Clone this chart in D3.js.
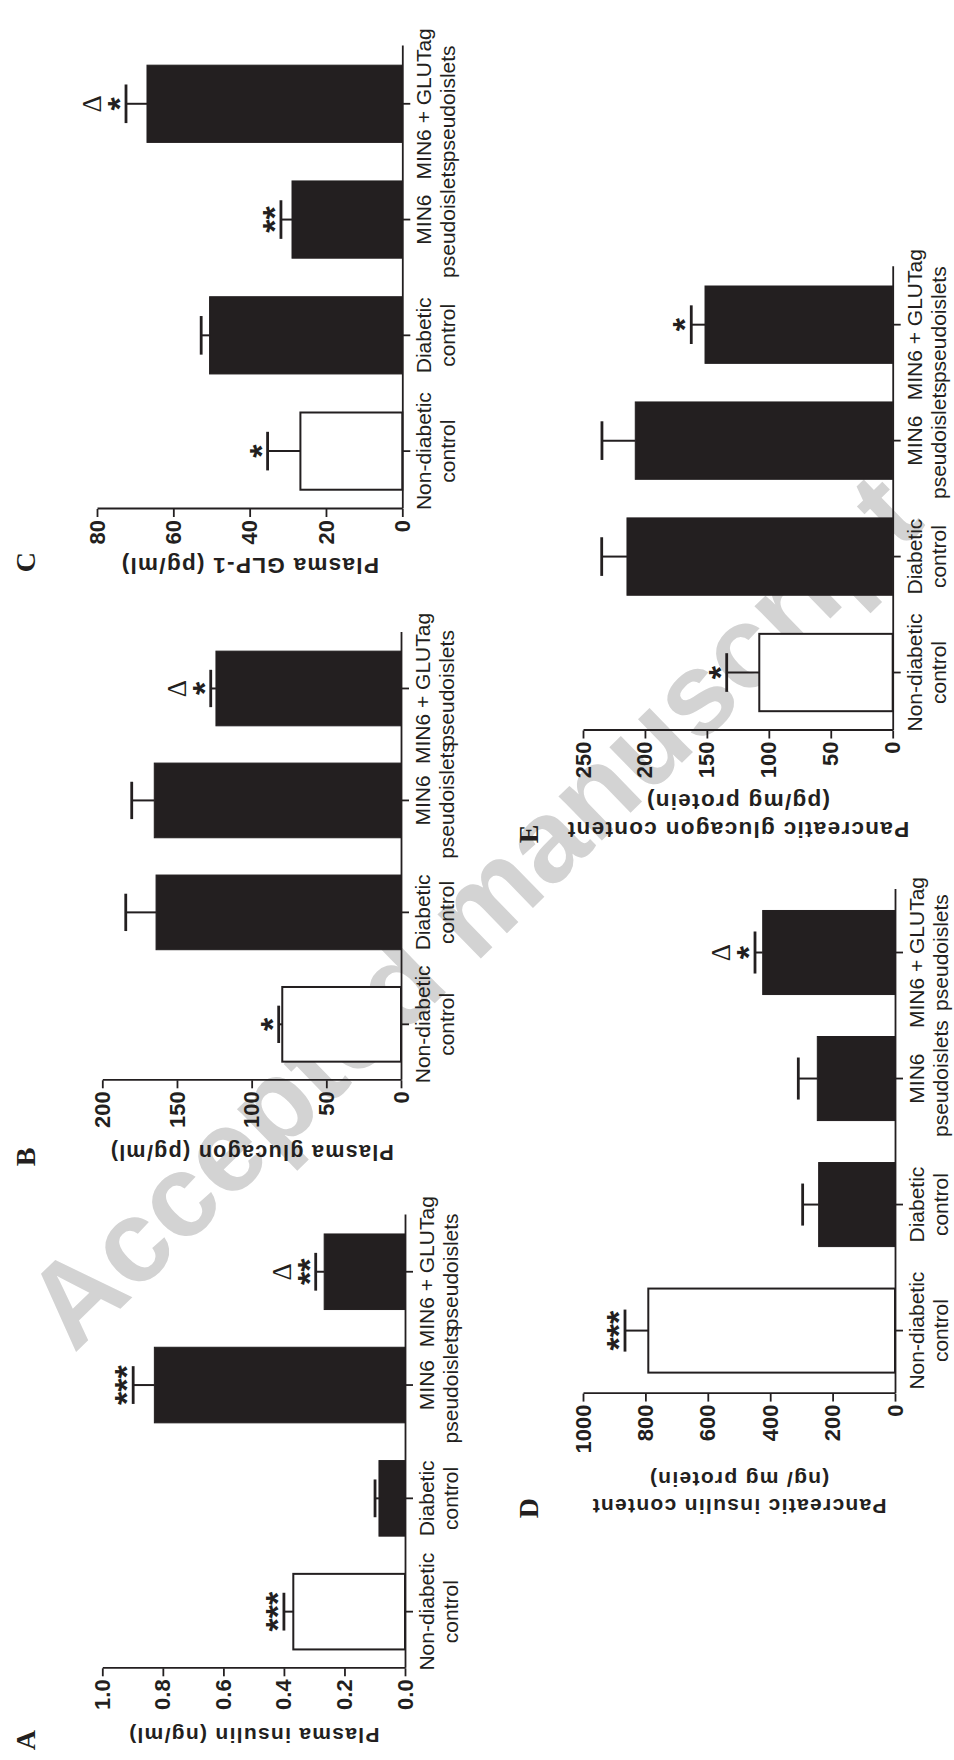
<!DOCTYPE html>
<html><head><meta charset="utf-8">
<script src="https://cdn.jsdelivr.net/npm/d3@7"></script>
<style>body{margin:0;background:#fff} svg{display:block}</style>
</head><body>
<svg id="fig" width="954" height="1760"></svg>
<script>
// ---------- data ----------
const groupLine1 = ["Non-diabetic", "Diabetic", "MIN6", "MIN6 + GLUTag"];
const groupLine2 = ["control", "control", "pseudoislets", "pseudoislets"];
const barColors = ["#ffffff", "#231f20", "#231f20", "#231f20"];

const plasmaInsulin      = [0.369, 0.086, 0.828, 0.267];
const plasmaInsulinSem   = [0.031, 0.013, 0.070, 0.028];
const plasmaInsulinStars = ["***", "", "***", "**"];
const plasmaInsulinDelta = [false, false, false, true];
const plasmaInsulinTicks = [0, 0.2, 0.4, 0.6, 0.8, 1.0];

const plasmaGlucagon      = [79.5, 164.0, 165.2, 123.9];
const plasmaGlucagonSem   = [2.4, 20.3, 15.1, 3.5];
const plasmaGlucagonStars = ["*", "", "", "*"];
const plasmaGlucagonDelta = [false, false, false, true];
const plasmaGlucagonTicks = [0, 50, 100, 150, 200];

const plasmaGlp1      = [26.7, 50.5, 28.9, 66.9];
const plasmaGlp1Sem   = [8.6, 2.2, 2.9, 5.5];
const plasmaGlp1Stars = ["*", "", "**", "*"];
const plasmaGlp1Delta = [false, false, false, true];
const plasmaGlp1Ticks = [0, 20, 40, 60, 80];

const insulinContent      = [790.7, 244.7, 249.0, 424.0];
const insulinContentSem   = [74.7, 51.3, 60.9, 24.7];
const insulinContentStars = ["***", "", "", "*"];
const insulinContentDelta = [false, false, false, true];
const insulinContentTicks = [0, 200, 400, 600, 800, 1000];

const glucagonContent      = [107.7, 214.5, 207.8, 151.5];
const glucagonContentSem   = [26.3, 20.4, 26.9, 11.1];
const glucagonContentStars = ["*", "", "", "*"];
const glucagonContentDelta = [false, false, false, false];
const glucagonContentTicks = [0, 50, 100, 150, 200, 250];

const watermarkText = "Accepted manuscript";

// ---------- layout (unrotated page coordinates; page is turned 90° CCW) ----------
const panels = [
  {letter:"A", values:plasmaInsulin, sem:plasmaInsulinSem, stars:plasmaInsulinStars, delta:plasmaInsulinDelta,
   ticks:plasmaInsulinTicks, fmt:d3.format(".1f"), title:["Plasma insulin (ng/ml)"], titleSize:21,
   x0:91.7, x1:544.9, y0:405, yTop:102.3, titleBase:[32], letterPos:[20, 35]},
  {letter:"B", values:plasmaGlucagon, sem:plasmaGlucagonSem, stars:plasmaGlucagonStars, delta:plasmaGlucagonDelta,
   ticks:plasmaGlucagonTicks, fmt:d3.format("d"), title:["Plasma glucagon (pg/ml)"], titleSize:21.5,
   x0:679.7, x1:1127.5, y0:401, yTop:102.3, titleBase:[615.5], letterPos:[603, 35]},
  {letter:"C", values:plasmaGlp1, sem:plasmaGlp1Sem, stars:plasmaGlp1Stars, delta:plasmaGlp1Delta,
   ticks:plasmaGlp1Ticks, fmt:d3.format("d"), title:["Plasma GLP-1 (pg/ml)"], titleSize:22.5,
   x0:1251, x1:1714.1, y0:402.3, yTop:97, titleBase:[1202], letterPos:[1198, 35]},
  {letter:"D", values:insulinContent, sem:insulinContentSem, stars:insulinContentStars, delta:insulinContentDelta,
   ticks:insulinContentTicks, fmt:d3.format("d"), title:["Pancreatic insulin content", "(ng/ mg protein)"], titleSize:21,
   x0:366.4, x1:870.5, y0:895, yTop:583, titleBase:[260.7, 288], letterPos:[252, 538]},
  {letter:"E", values:glucagonContent, sem:glucagonContentSem, stars:glucagonContentStars, delta:glucagonContentDelta,
   ticks:glucagonContentTicks, fmt:d3.format("d"), title:["Pancreatic glucagon content", "(pg/mg protein)"], titleSize:22.5,
   x0:1029.5, x1:1493.3, y0:892.7, yTop:583, titleBase:[938, 966], letterPos:[926, 538]}
];

const ink = "#231f20";
const sans = "'Liberation Sans', Arial, Helvetica, sans-serif";
const serif = "'Liberation Serif', 'Times New Roman', serif";

const svg = d3.select("#fig");
svg.append("rect").attr("width", 954).attr("height", 1760).attr("fill", "#fff");

// watermark (behind the figure)
svg.append("text")
  .attr("transform", "translate(74,1354) rotate(-44.2)")
  .attr("font-family", sans).attr("font-weight", "bold").attr("font-size", 117)
  .attr("fill", "#d3d3d3")
  .text(watermarkText);

const page = svg.append("g").attr("transform", "translate(0,1760) rotate(-90)");

panels.forEach(p => {
  const g = page.append("g");
  const idx = d3.range(p.values.length);
  const x = d3.scaleBand().domain(idx).range([p.x0, p.x1]).paddingInner(0.333).paddingOuter(0.1665);
  const y = d3.scaleLinear().domain([0, p.ticks[p.ticks.length - 1]]).range([p.y0, p.yTop]);
  const bw = x.bandwidth();
  const cx = i => x(i) + bw / 2;

  // bars
  g.selectAll("rect.bar").data(idx).join("rect")
    .attr("x", i => x(i)).attr("width", bw)
    .attr("y", i => y(p.values[i])).attr("height", i => p.y0 - y(p.values[i]))
    .attr("fill", i => barColors[i]).attr("stroke", ink)
    .attr("stroke-width", i => barColors[i] === "#ffffff" ? 2 : 1);

  // error bars (upper only) and significance marks
  idx.forEach(i => {
    const top = y(p.values[i] + p.sem[i]);
    g.append("line").attr("x1", cx(i)).attr("x2", cx(i))
      .attr("y1", y(p.values[i])).attr("y2", top).attr("stroke", ink).attr("stroke-width", 2);
    g.append("line").attr("x1", cx(i) - bw * 0.25).attr("x2", cx(i) + bw * 0.25)
      .attr("y1", top).attr("y2", top).attr("stroke", ink).attr("stroke-width", 2.8);
    if (p.stars[i]) {
      g.append("text").attr("x", cx(i)).attr("y", top + 5)
        .attr("text-anchor", "middle").attr("font-family", sans).attr("font-weight", "bold")
        .attr("font-size", 34).attr("fill", ink).text(p.stars[i]);
    }
    if (p.delta[i]) {
      g.append("text").attr("x", cx(i)).attr("y", top - 25)
        .attr("text-anchor", "middle").attr("font-family", serif)
        .attr("font-size", 27).attr("fill", ink).text("Δ");
    }
  });

  // category axis
  const gx = g.append("g").attr("transform", `translate(0,${p.y0})`)
    .call(d3.axisBottom(x).tickSize(8).tickSizeOuter(0).tickFormat(""));
  gx.selectAll("path,line").attr("stroke", ink).attr("stroke-width", 1.8);
  idx.forEach(i => {
    const t = g.append("text").attr("text-anchor", "middle").attr("font-family", sans)
      .attr("font-size", 21).attr("fill", ink);
    t.append("tspan").attr("x", cx(i)).attr("y", p.y0 + 29).text(groupLine1[i]);
    t.append("tspan").attr("x", cx(i)).attr("y", p.y0 + 53).text(groupLine2[i]);
  });

  // value axis
  const gy = g.append("g").attr("transform", `translate(${p.x0},0)`)
    .call(d3.axisLeft(y).tickValues(p.ticks).tickSize(8).tickSizeOuter(0).tickPadding(3).tickFormat(p.fmt));
  gy.selectAll("path,line").attr("stroke", ink).attr("stroke-width", 1.8);
  gy.selectAll("text").attr("font-family", sans).attr("font-weight", "bold")
    .attr("font-size", 22).attr("fill", ink);

  // axis title
  const mid = (p.y0 + p.yTop) / 2;
  p.title.forEach((line, k) => {
    g.append("text").attr("transform", `translate(${p.titleBase[k]},${mid}) rotate(-90)`)
      .attr("text-anchor", "middle").attr("font-family", sans).attr("font-weight", "bold")
      .attr("font-size", p.titleSize).attr("letter-spacing", 1.3).attr("fill", ink).text(line);
  });

  // panel letter
  g.append("text").attr("x", p.letterPos[0]).attr("y", p.letterPos[1])
    .attr("text-anchor", "middle").attr("font-family", serif).attr("font-weight", "bold")
    .attr("font-size", 28).attr("fill", ink).text(p.letter);
});
</script>
</body></html>
